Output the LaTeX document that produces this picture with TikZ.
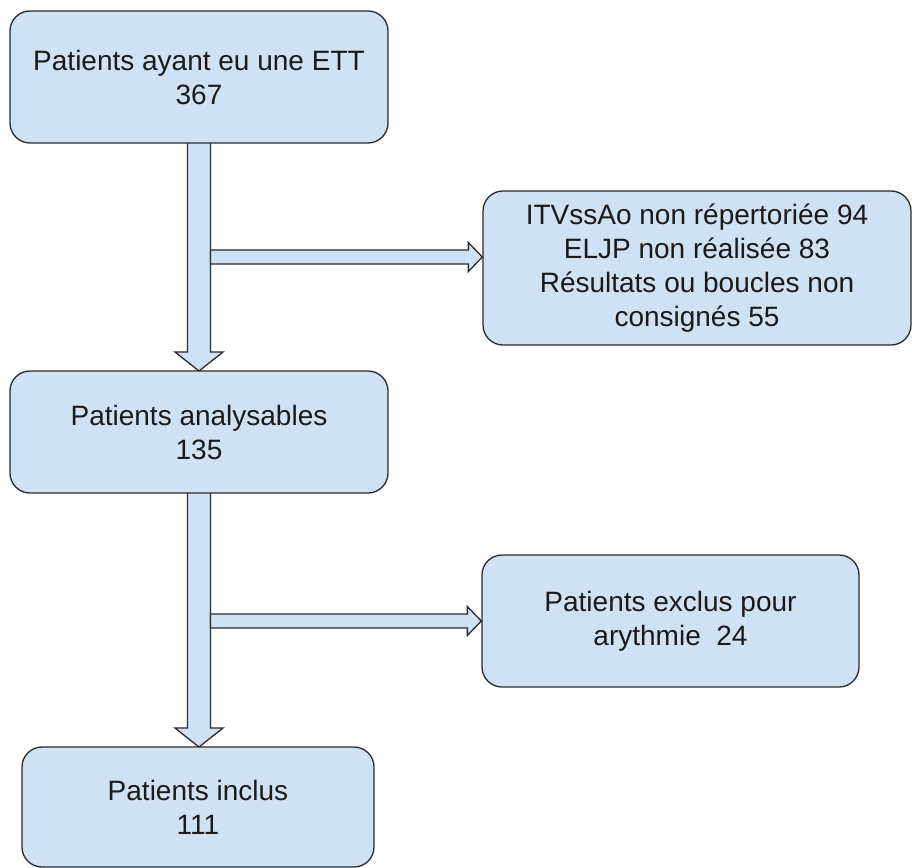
\documentclass[tikz,border=0pt]{standalone}
\usepackage{fontspec}
\setmainfont{Liberation Sans}
\usetikzlibrary{calc}
\definecolor{boxfill}{HTML}{CFE2F3}
\definecolor{edge}{HTML}{2B2B2B}
\definecolor{txt}{HTML}{1A1A1A}
\begin{document}
\begin{tikzpicture}[x=1pt,y=-1pt,
  box/.style={draw=edge,fill=boxfill,line width=1.3pt,rounded corners=20pt,
    align=center,text=txt,font=\fontsize{28}{34}\selectfont,inner sep=0pt},
  blockarrow/.style={draw=edge,fill=boxfill,line width=1.3pt,line join=miter}]
\useasboundingbox (0,0) rectangle (912,867);
\fill[white] (0,0) rectangle (912,867);
% arrows first (boxes cover the arrow roots)
\coordinate (b1s) at (199,143);
\coordinate (b2n) at (199,371);
\coordinate (b2s) at (199,493);
\coordinate (b5n) at (199,747);
% vertical arrow 1
\draw[blockarrow] ($(b1s)+(-11.5,0)$) -- ($(b2n)+(-11.5,-19)$) -- ($(b2n)+(-24,-19)$) -- (b2n)
  -- ($(b2n)+(24,-19)$) -- ($(b2n)+(11.5,-19)$) -- ($(b1s)+(11.5,0)$);
% vertical arrow 2
\draw[blockarrow] ($(b2s)+(-11.5,0)$) -- ($(b5n)+(-11.5,-19)$) -- ($(b5n)+(-24,-19)$) -- (b5n)
  -- ($(b5n)+(24,-19)$) -- ($(b5n)+(11.5,-19)$) -- ($(b2s)+(11.5,0)$);
% boxes
\node[box,minimum width=378pt,minimum height=132pt] (b1) at (199,77)
  {Patients ayant eu une ETT\\367};
\node[box,minimum width=378pt,minimum height=122pt] (b2) at (199,432)
  {Patients analysables\\135};
\node[box,minimum width=352pt,minimum height=120pt] (b5) at (198,807)
  {Patients inclus\\111};
\node[box,minimum width=428pt,minimum height=154pt] (b3) at (697,268)
  {ITVssAo non répertoriée 94\\ELJP non réalisée 83\\Résultats ou boucles non\\consignés 55};
\node[box,minimum width=377pt,minimum height=132pt] (b4) at (670.5,621)
  {Patients exclus pour\\arythmie~~24};
% horizontal arrows
\coordinate (h1) at (210.5,257);
\coordinate (h2) at (210.5,621);
\coordinate (t1) at (b3.west |- h1);
\coordinate (t2) at (b4.west |- h2);
\draw[blockarrow] ($(h1)+(0,-7)$) -- ($(t1)+(-14,-7)$) -- ($(t1)+(-14,-14.5)$) -- (t1)
  -- ($(t1)+(-14,14.5)$) -- ($(t1)+(-14,7)$) -- ($(h1)+(0,7)$) -- cycle;
\draw[blockarrow] ($(h2)+(0,-7)$) -- ($(t2)+(-14,-7)$) -- ($(t2)+(-14,-14.5)$) -- (t2)
  -- ($(t2)+(-14,14.5)$) -- ($(t2)+(-14,7)$) -- ($(h2)+(0,7)$) -- cycle;
\end{tikzpicture}
\end{document}
